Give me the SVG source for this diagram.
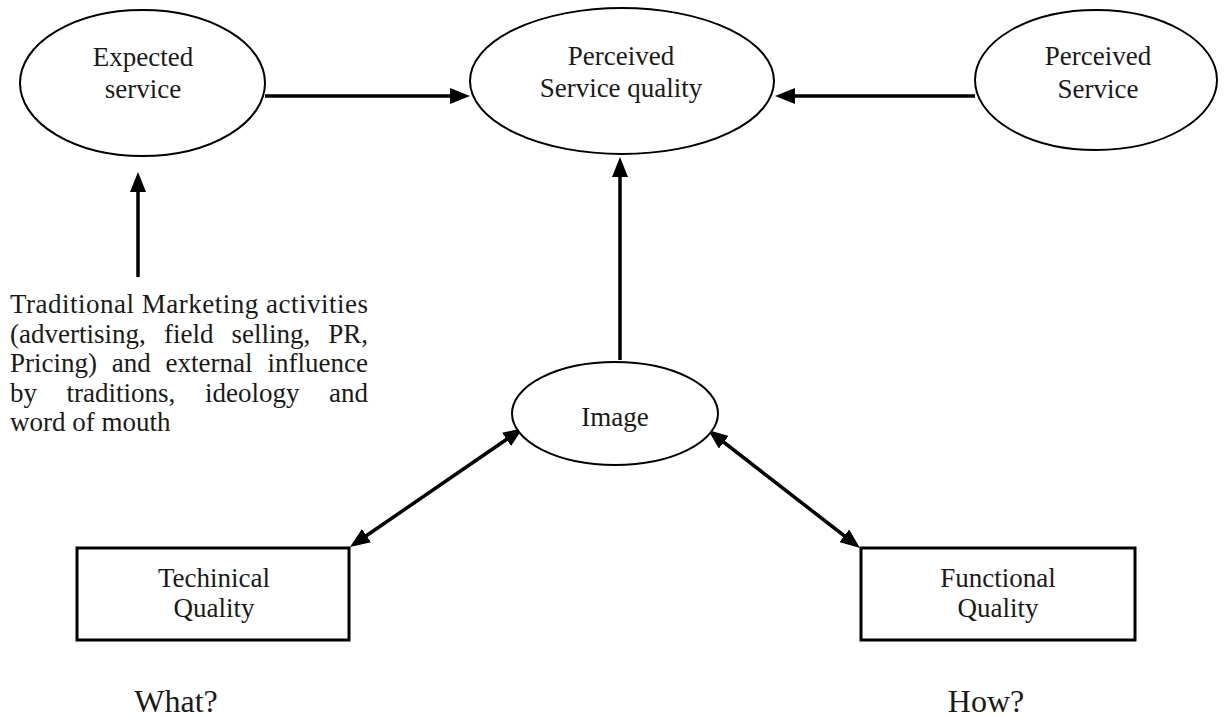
<svg xmlns="http://www.w3.org/2000/svg" width="1224" height="717" viewBox="0 0 1224 717">
<style>
.shape{fill:#fff;stroke:#000;stroke-width:2}
.box{fill:#fff;stroke:#000;stroke-width:3}
.t{font-family:"Liberation Serif","Times New Roman",serif;font-size:27px;fill:#1a1a1a;text-anchor:middle}
.p{font-family:"Liberation Serif","Times New Roman",serif;font-size:27px;fill:#1a1a1a}
.big{font-family:"Liberation Serif","Times New Roman",serif;font-size:32px;fill:#1a1a1a;text-anchor:middle}
.c{stroke:#000;stroke-width:3.5;fill:none}
</style>
<defs>
<marker id="ah" markerUnits="userSpaceOnUse" markerWidth="20" markerHeight="16" viewBox="0 0 20 16" refX="2" refY="8" orient="auto-start-reverse">
<path d="M0,0 L20,8 L0,16 z" fill="#000"/>
</marker>
</defs>
<rect width="1224" height="717" fill="#fff"/>
<g id="connectors">
<line class="c" x1="265" y1="96" x2="452" y2="96" marker-end="url(#ah)"/>
<line class="c" x1="975" y1="96" x2="793" y2="96" marker-end="url(#ah)"/>
<line class="c" x1="138" y1="277" x2="138" y2="190" marker-end="url(#ah)"/>
<line class="c" x1="620" y1="360" x2="620" y2="175" marker-end="url(#ah)"/>
<line class="c" x1="364.8" y1="536.8" x2="508.2" y2="438.2" marker-start="url(#ah)" marker-end="url(#ah)"/>
<line class="c" x1="722.2" y1="441" x2="845.8" y2="537" marker-start="url(#ah)" marker-end="url(#ah)"/>
</g>
<g id="expected-service">
<ellipse class="shape" cx="142.5" cy="83" rx="122.5" ry="73"/>
<text class="t" x="143" y="66">Expected</text>
<text class="t" x="143" y="98">service</text>
</g>
<g id="perceived-service-quality">
<ellipse class="shape" cx="622" cy="81" rx="152" ry="73"/>
<text class="t" x="621" y="65">Perceived</text>
<text class="t" x="621" y="97">Service quality</text>
</g>
<g id="perceived-service">
<ellipse class="shape" cx="1096" cy="80" rx="121" ry="70"/>
<text class="t" x="1098" y="65">Perceived</text>
<text class="t" x="1098" y="98">Service</text>
</g>
<g id="image">
<ellipse class="shape" cx="615" cy="413.5" rx="103" ry="51.5"/>
<text class="t" x="615" y="426">Image</text>
</g>
<g id="technical-quality">
<rect class="box" x="77" y="548" width="272" height="92"/>
<text class="t" x="214" y="587">Techinical</text>
<text class="t" x="214" y="617">Quality</text>
</g>
<g id="functional-quality">
<rect class="box" x="861" y="548" width="274" height="92"/>
<text class="t" x="998" y="587">Functional</text>
<text class="t" x="998" y="617">Quality</text>
</g>
<g id="marketing-text">
<text class="p" x="10" y="313" textLength="358" lengthAdjust="spacing">Traditional Marketing activities</text>
<text class="p" y="342.5"><tspan x="10">(advertising,</tspan><tspan x="164">field</tspan><tspan x="231.5">selling,</tspan><tspan x="368" text-anchor="end">PR,</tspan></text>
<text class="p" y="372"><tspan x="10">Pricing)</tspan><tspan x="111.8">and</tspan><tspan x="165.6">external</tspan><tspan x="368" text-anchor="end">influence</tspan></text>
<text class="p" y="401.5"><tspan x="10">by</tspan><tspan x="66.6">traditions,</tspan><tspan x="205">ideology</tspan><tspan x="368" text-anchor="end">and</tspan></text>
<text class="p" x="10" y="431">word of mouth</text>
</g>
<g id="what-label"><text class="big" x="176" y="712">What?</text></g>
<g id="how-label"><text class="big" x="986" y="712">How?</text></g>
</svg>
